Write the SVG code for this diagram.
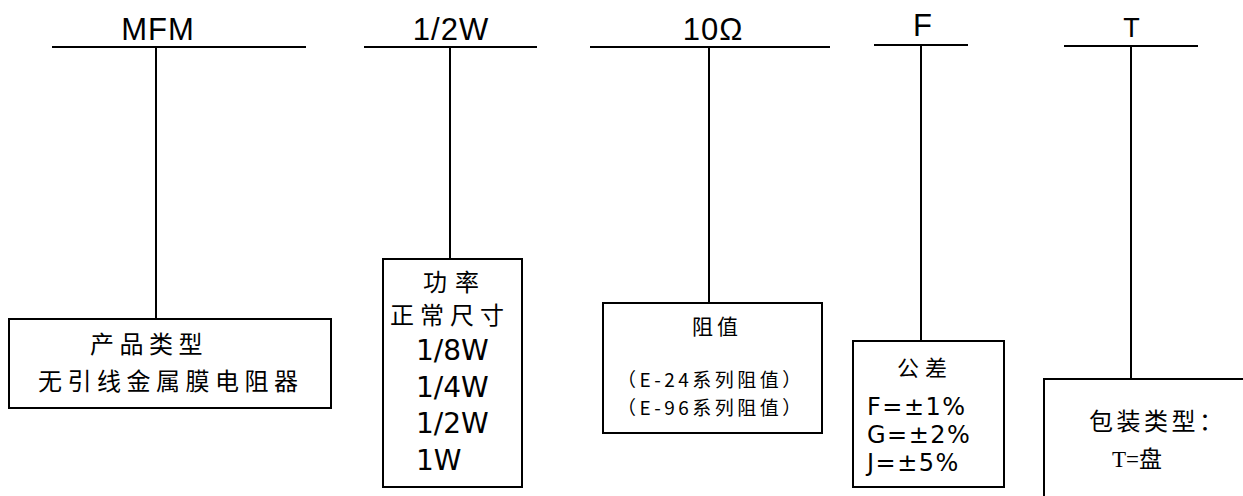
<svg xmlns="http://www.w3.org/2000/svg" width="1243" height="496" viewBox="0 0 1243 496">
<style>
.ln{stroke:#000;stroke-width:2;fill:none}
.bx{stroke:#000;stroke-width:2;fill:#fff}
.top{font-family:"Liberation Sans",Arial,sans-serif;font-size:31px;fill:#000;text-anchor:middle;letter-spacing:1px}
.cjk{font-family:"Noto Sans CJK SC","Noto Sans CJK JP",sans-serif;fill:#000}
.lat{font-family:"DejaVu Sans","Noto Sans CJK SC",sans-serif;fill:#000}
</style>
<rect width="1243" height="496" fill="#fff"/>
<g id="connectors">
<line class="ln" x1="52" y1="47" x2="306" y2="47"/>
<line class="ln" x1="156" y1="47" x2="156" y2="319"/>
<line class="ln" x1="364" y1="47" x2="537" y2="47"/>
<line class="ln" x1="450" y1="47" x2="450" y2="259"/>
<line class="ln" x1="590" y1="47" x2="830" y2="47"/>
<line class="ln" x1="709" y1="47" x2="709" y2="303"/>
<line class="ln" x1="874" y1="45" x2="968" y2="45"/>
<line class="ln" x1="921" y1="45" x2="921" y2="341"/>
<line class="ln" x1="1064" y1="46" x2="1198" y2="46"/>
<line class="ln" x1="1131" y1="46" x2="1131" y2="379"/>
</g>
<g id="label-mfm"><text class="top" x="158" y="40">MFM</text></g>
<g id="label-power"><text class="top" x="451" y="40">1/2W</text></g>
<g id="label-res"><text class="top" x="713" y="40">10Ω</text></g>
<g id="label-tol"><text class="top" x="923" y="36">F</text></g>
<g id="label-pack"><text class="top" x="1132" y="37" style="font-size:27px">T</text></g>
<g id="node-type">
<rect class="bx" x="9" y="319" width="322" height="89"/>
<text class="cjk" x="90" y="353" font-size="24" letter-spacing="5.5">产品类型</text>
<text class="cjk" x="38" y="390" font-size="24" letter-spacing="5.5">无引线金属膜电阻器</text>
</g>
<g id="node-power">
<rect class="bx" x="383" y="259" width="139" height="228"/>
<text class="cjk" x="423" y="291" font-size="24" letter-spacing="8">功率</text>
<text class="cjk" x="390" y="324" font-size="24" letter-spacing="6">正常尺寸</text>
<text class="lat" x="416" y="360" font-size="28">1/8W</text>
<text class="lat" x="416" y="397" font-size="28">1/4W</text>
<text class="lat" x="416" y="433" font-size="28">1/2W</text>
<text class="lat" x="416" y="470" font-size="28">1W</text>
</g>
<g id="node-res">
<rect class="bx" x="603" y="303" width="219" height="130"/>
<text class="cjk" x="692" y="334" font-size="21" letter-spacing="4">阻值</text>
<text class="cjk" x="617" y="387" font-size="19" letter-spacing="3.5">（E-24系列阻值）</text>
<text class="cjk" x="617" y="415" font-size="19" letter-spacing="3.5">（E-96系列阻值）</text>
</g>
<g id="node-tol">
<rect class="bx" x="853" y="341" width="151" height="146"/>
<text class="cjk" x="897" y="376" font-size="22" letter-spacing="6">公差</text>
<text class="lat" x="867" y="415" font-size="24" letter-spacing="1.5">F=±1%</text>
<text class="lat" x="867" y="443" font-size="24" letter-spacing="1.5">G=±2%</text>
<text class="lat" x="867" y="471" font-size="24" letter-spacing="1.5">J=±5%</text>
</g>
<g id="node-pack">
<rect class="bx" x="1044" y="379" width="220" height="140"/>
<text class="cjk" x="1089" y="430" font-size="24" letter-spacing="3.5">包装类型：</text>
<text x="1112" y="467" font-size="23" style="font-family:'Liberation Serif','Noto Sans CJK SC',serif">T=盘</text>
</g>
</svg>
